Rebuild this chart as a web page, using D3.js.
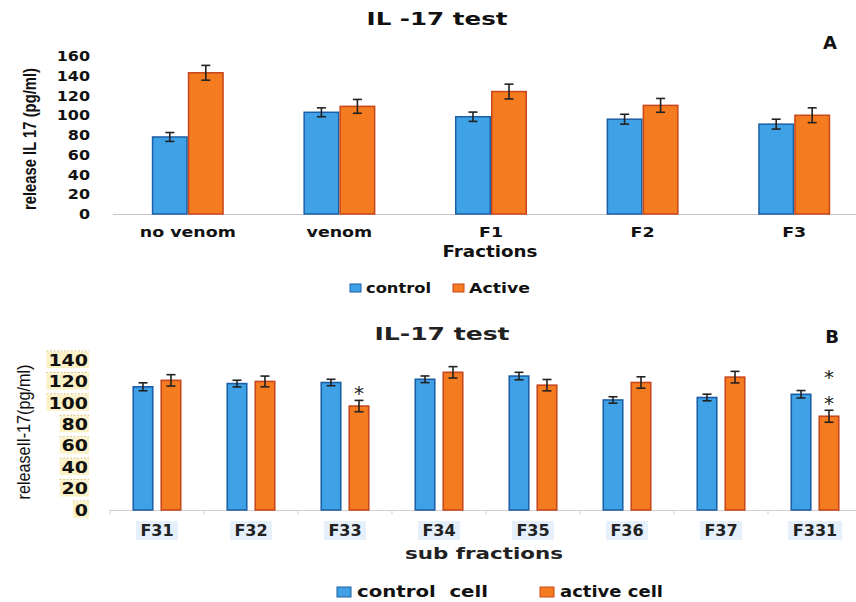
<!DOCTYPE html>
<html><head><meta charset="utf-8">
<script src="https://cdn.jsdelivr.net/npm/d3@7"></script>
<style>body{margin:0;background:#fff}svg{display:block}</style>
</head><body>
<svg id="c" width="856" height="602"></svg>
<script>
// ---- Panel A data ----
const catsA = ["no venom", "venom", "F1", "F2", "F3"];
const seriesA = ["control", "Active"];
const controlA = [78, 103, 98.5, 96, 91];
const activeA = [143, 109, 124, 110, 100];
const controlErrA = [4.5, 4.5, 4.7, 5, 5];
const activeErrA = [7.5, 7, 7.5, 7, 7.5];
const ticksA = [0, 20, 40, 60, 80, 100, 120, 140, 160];

// ---- Panel B data ----
const catsB = ["F31", "F32", "F33", "F34", "F35", "F36", "F37", "F331"];
const seriesB = ["control  cell", "active cell"];
const controlB = [115, 118, 119, 122, 125, 102.7, 105, 108];
const activeB = [121, 120, 97, 128.5, 116.5, 119, 124, 87.5];
const controlErrB = [3.7, 3.1, 3.0, 3.1, 3.5, 3.0, 3.1, 3.5];
const activeErrB = [5.3, 5.0, 5.3, 5.3, 5.3, 5.3, 5.4, 5.6];
const ticksB = [0, 20, 40, 60, 80, 100, 120, 140];
const sigB = [{cat: "F33", stars: 1}, {cat: "F331", stars: 2}];

const BLUE = "#3fa2e6", BLUE_S = "#1d5fa6", ORANGE = "#f57b20", ORANGE_S = "#c8461b";
const svg = d3.select("#c");
const tickFont = "'DejaVu Sans', Verdana, sans-serif";

function widen(sel, f) {
  sel.each(function(){
    const L = this.getComputedTextLength();
    d3.select(this).attr("textLength", L * f).attr("lengthAdjust", "spacingAndGlyphs");
  });
}

// ================= Panel A =================
(function(){
  const x0 = d3.scaleBand().domain(catsA).range([112, 870]).paddingInner(0.525).paddingOuter(0.2625);
  const x1 = d3.scaleBand().domain(seriesA).range([0, x0.bandwidth()]);
  const y = d3.scaleLinear().domain([0, 160]).range([214, 56]);
  const g = svg.append("g");
  const rows = catsA.map((c, i) => ({c, vals: [
    {s: seriesA[0], v: controlA[i], e: controlErrA[i], f: BLUE, st: BLUE_S},
    {s: seriesA[1], v: activeA[i], e: activeErrA[i], f: ORANGE, st: ORANGE_S}]}));

  g.append("line").attr("x1", 113).attr("x2", 856).attr("y1", y(0)+0.5).attr("y2", y(0)+0.5)
    .attr("stroke", "#c8c8c8").attr("stroke-width", 1.2);

  const grp = g.selectAll("g.cat").data(rows).join("g").attr("transform", d => `translate(${x0(d.c)},0)`);
  grp.selectAll("rect").data(d => d.vals).join("rect")
    .attr("x", d => x1(d.s) + 0.75).attr("width", x1.bandwidth() - 1.5)
    .attr("y", d => y(d.v)).attr("height", d => y(0) - y(d.v))
    .attr("fill", d => d.f).attr("stroke", d => d.st).attr("stroke-width", 1.5);
  const eb = grp.selectAll("g.eb").data(d => d.vals).join("g").attr("stroke", "#222").attr("stroke-width", 1.6);
  eb.append("line").attr("x1", d => x1(d.s) + x1.bandwidth()/2).attr("x2", d => x1(d.s) + x1.bandwidth()/2)
    .attr("y1", d => y(d.v + d.e)).attr("y2", d => y(d.v - d.e));
  [1, -1].forEach(sg => eb.append("line")
    .attr("x1", d => x1(d.s) + x1.bandwidth()/2 - 4.5).attr("x2", d => x1(d.s) + x1.bandwidth()/2 + 4.5)
    .attr("y1", d => y(d.v + sg*d.e)).attr("y2", d => y(d.v + sg*d.e)));

  const yt = g.selectAll("text.yt").data(ticksA).join("text").attr("x", 90).attr("y", d => y(d))
    .attr("dy", "0.36em").attr("text-anchor", "end").attr("font-family", tickFont)
    .attr("font-weight", "bold").attr("font-size", 14.5).attr("fill", "#111").text(d => d);
  widen(yt, 1.1);
  const xl = g.selectAll("text.xl").data(catsA).join("text").attr("x", d => x0(d) + x0.bandwidth()/2).attr("y", 232)
    .attr("dy", "0.36em").attr("text-anchor", "middle").attr("font-family", tickFont)
    .attr("font-weight", "bold").attr("font-size", 14.5).attr("fill", "#111").text(d => d);
  widen(xl, 1.2);
  g.append("text").attr("x", 490).attr("y", 252).attr("dy", "0.36em").attr("text-anchor", "middle")
    .attr("font-family", tickFont).attr("font-weight", "bold").attr("font-size", 15)
    .attr("textLength", 95).attr("lengthAdjust", "spacingAndGlyphs")
    .attr("fill", "#111").text("Fractions");
  g.append("text").attr("transform", "translate(36,139) rotate(-90)").attr("text-anchor", "middle")
    .attr("font-family", "'Liberation Sans Narrow', 'Liberation Sans', Arial, sans-serif").attr("font-weight", "bold")
    .attr("font-size", 18).attr("textLength", 142).attr("lengthAdjust", "spacingAndGlyphs").attr("fill", "#111")
    .text("release IL 17 (pg/ml)");
  g.append("text").attr("x", 437).attr("y", 25).attr("text-anchor", "middle").attr("font-family", tickFont)
    .attr("font-weight", "bold").attr("font-size", 17.5).attr("textLength", 141).attr("lengthAdjust", "spacingAndGlyphs")
    .attr("fill", "#111").text("IL -17 test");
  g.append("text").attr("x", 830).attr("y", 49).attr("text-anchor", "middle").attr("font-family", tickFont)
    .attr("font-weight", "bold").attr("font-size", 18).attr("fill", "#111").text("A");
  const leg = [{s: seriesA[0], f: BLUE, st: BLUE_S, x: 350, w: 65}, {s: seriesA[1], f: ORANGE, st: ORANGE_S, x: 453, w: 61}];
  const lg = g.selectAll("g.lg").data(leg).join("g").attr("transform", d => `translate(${d.x},288)`);
  lg.append("rect").attr("x", 0).attr("y", -4).attr("width", 11).attr("height", 8)
    .attr("fill", d => d.f).attr("stroke", d => d.st).attr("stroke-width", 1);
  lg.append("text").attr("x", 16).attr("dy", "0.36em").attr("font-family", tickFont).attr("font-weight", "bold")
    .attr("font-size", 14.5).attr("textLength", d => d.w).attr("lengthAdjust", "spacingAndGlyphs")
    .attr("fill", "#111").text(d => d.s);
})();

// ================= Panel B =================
(function(){
  const x0 = d3.scaleBand().domain(catsB).range([110, 862]).paddingInner(0.479).paddingOuter(0.2394);
  const x1 = d3.scaleBand().domain(seriesB).range([0, x0.bandwidth()]).paddingInner(0.25);
  const y = d3.scaleLinear().domain([0, 140]).range([510, 360]);
  const g = svg.append("g");
  const rows = catsB.map((c, i) => ({c, vals: [
    {s: seriesB[0], v: controlB[i], e: controlErrB[i], f: BLUE, st: BLUE_S},
    {s: seriesB[1], v: activeB[i], e: activeErrB[i], f: ORANGE, st: ORANGE_S}]}));

  const tg = g.selectAll("g.yt").data(ticksB).join("g").attr("transform", d => `translate(0,${y(d)})`);
  tg.append("rect").attr("x", d => 88 - String(d).length * 13.2 - 2).attr("y", -8)
    .attr("width", d => String(d).length * 13.2 + 3).attr("height", 16).attr("fill", "#fbf1c6");
  tg.append("line").attr("x1", d => 88 - String(d).length * 13.2 - 2).attr("x2", 89).attr("y1", -9).attr("y2", -9)
    .attr("stroke", "#dcc06a").attr("stroke-width", 1).attr("stroke-dasharray", "2,1.5");
  tg.append("text").attr("x", 88).attr("dy", "0.36em").attr("text-anchor", "end").attr("font-family", tickFont)
    .attr("font-weight", "bold").attr("font-size", 16).attr("textLength", d => String(d).length * 13.2)
    .attr("lengthAdjust", "spacingAndGlyphs").attr("fill", "#111").text(d => d);

  g.append("line").attr("x1", 110).attr("x2", 856).attr("y1", y(0)+0.5).attr("y2", y(0)+0.5)
    .attr("stroke", "#cfcfcf").attr("stroke-width", 1.2);
  g.selectAll("line.tk").data(catsB).join("line")
    .attr("x1", d => x0(d) - (x0.step() - x0.bandwidth())/2).attr("x2", d => x0(d) - (x0.step() - x0.bandwidth())/2)
    .attr("y1", y(0)).attr("y2", y(0) + 4).attr("stroke", "#cfcfcf").attr("stroke-width", 1);

  const grp = g.selectAll("g.cat").data(rows).join("g").attr("transform", d => `translate(${x0(d.c)},0)`);
  grp.selectAll("rect").data(d => d.vals).join("rect")
    .attr("x", d => x1(d.s) + 0.75).attr("width", x1.bandwidth() - 1.5)
    .attr("y", d => y(d.v)).attr("height", d => y(0) - y(d.v))
    .attr("fill", d => d.f).attr("stroke", d => d.st).attr("stroke-width", 1.6);
  const eb = grp.selectAll("g.eb").data(d => d.vals).join("g").attr("stroke", "#222").attr("stroke-width", 1.6);
  eb.append("line").attr("x1", d => x1(d.s) + x1.bandwidth()/2).attr("x2", d => x1(d.s) + x1.bandwidth()/2)
    .attr("y1", d => y(d.v + d.e)).attr("y2", d => y(d.v - d.e));
  [1, -1].forEach(sg => eb.append("line")
    .attr("x1", d => x1(d.s) + x1.bandwidth()/2 - 4.5).attr("x2", d => x1(d.s) + x1.bandwidth()/2 + 4.5)
    .attr("y1", d => y(d.v + sg*d.e)).attr("y2", d => y(d.v + sg*d.e)));

  sigB.forEach(s => {
    const i = catsB.indexOf(s.cat);
    const cx = x0(s.cat) + x1(seriesB[1]) + x1.bandwidth()/2;
    const top = y(activeB[i] + activeErrB[i]);
    for (let k = 0; k < s.stars; k++) {
      g.append("text").attr("x", cx).attr("y", top - k*26).attr("text-anchor", "middle")
        .attr("font-family", tickFont).attr("font-size", 20).attr("fill", "#222").text("*");
    }
  });

  const xl = g.selectAll("g.xl").data(catsB).join("g")
    .attr("transform", d => `translate(${x0(d) + x0.bandwidth()/2},530)`);
  xl.append("rect").attr("x", d => -d.length*6.3 - 2).attr("y", -9).attr("width", d => d.length*12.6 + 4)
    .attr("height", 19).attr("fill", "#e6f0fa");
  xl.append("text").attr("dy", "0.36em").attr("text-anchor", "middle").attr("font-family", tickFont)
    .attr("font-weight", "bold").attr("font-size", 16).attr("fill", "#222").text(d => d);

  g.append("text").attr("x", 484).attr("y", 553).attr("dy", "0.36em").attr("text-anchor", "middle")
    .attr("font-family", tickFont).attr("font-weight", "bold").attr("font-size", 16.5)
    .attr("textLength", 158).attr("lengthAdjust", "spacingAndGlyphs").attr("fill", "#222")
    .text("sub fractions");
  g.append("text").attr("transform", "translate(30,432) rotate(-90)").attr("text-anchor", "middle")
    .attr("font-family", "'Liberation Sans Narrow', 'Liberation Sans', Arial, sans-serif")
    .attr("font-size", 19).attr("textLength", 135).attr("lengthAdjust", "spacingAndGlyphs").attr("fill", "#111")
    .text("releaseIl-17(pg/ml)");
  g.append("text").attr("x", 442).attr("y", 340).attr("text-anchor", "middle").attr("font-family", tickFont)
    .attr("font-weight", "bold").attr("font-size", 17.5).attr("textLength", 135).attr("lengthAdjust", "spacingAndGlyphs")
    .attr("fill", "#222").text("IL-17 test");
  g.append("text").attr("x", 832).attr("y", 343).attr("text-anchor", "middle").attr("font-family", tickFont)
    .attr("font-weight", "bold").attr("font-size", 18).attr("fill", "#111").text("B");
  const leg = [{s: seriesB[0], f: BLUE, st: BLUE_S, x: 337, w: 131}, {s: seriesB[1], f: ORANGE, st: ORANGE_S, x: 540, w: 103}];
  const lg = g.selectAll("g.lg").data(leg).join("g").attr("transform", d => `translate(${d.x},592)`);
  lg.append("rect").attr("x", 0).attr("y", -5).attr("width", 14).attr("height", 10)
    .attr("fill", d => d.f).attr("stroke", d => d.st).attr("stroke-width", 1);
  lg.append("text").attr("x", 20).attr("dy", "0.33em").attr("font-family", tickFont).attr("font-weight", "bold")
    .attr("font-size", 15).attr("textLength", d => d.w).attr("lengthAdjust", "spacingAndGlyphs")
    .style("white-space", "pre").attr("fill", "#111").text(d => d.s);
})();
</script>
</body></html>
